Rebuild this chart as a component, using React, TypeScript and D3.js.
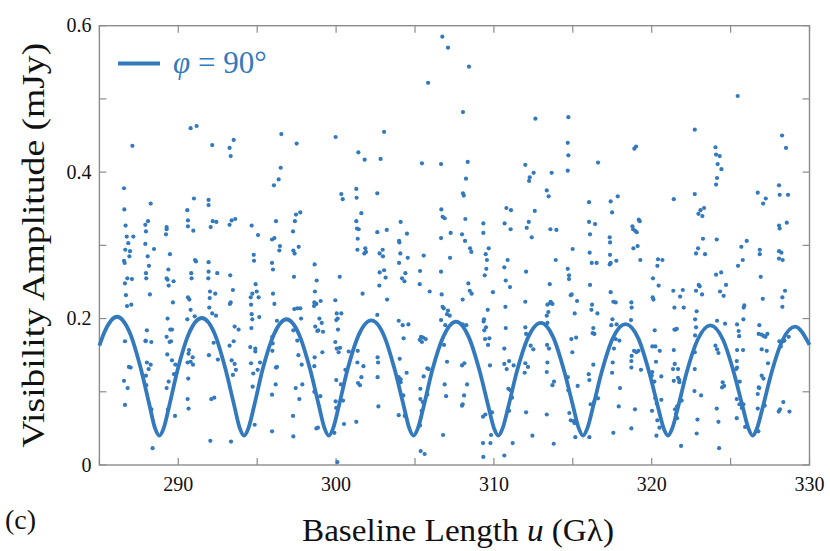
import React, { useMemo } from "react";
import * as d3 from "d3";

// observed visibilities, [u in G-lambda, amplitude in mJy]
const samples: [number, number][] = [
  [287.09,0.436],[290.78,0.460],[291.16,0.463],[292.15,0.437],[293.25,0.433],[293.51,0.444],[293.32,0.422],[286.56,0.378],
  [290.99,0.364],[291.92,0.362],[291.92,0.355],[288.25,0.357],[286.58,0.349],[290.57,0.348],[286.66,0.327],[287.91,0.328],
  [288.08,0.333],[287.95,0.319],[289.26,0.325],[289.26,0.322],[289.22,0.315],[290.61,0.334],[290.61,0.326],[290.95,0.320],
  [292.18,0.333],[292.41,0.332],[292.05,0.325],[293.25,0.328],[293.38,0.334],[293.61,0.336],[286.73,0.312],[287.15,0.312],
  [286.83,0.303],[287.91,0.302],[288.46,0.295],[286.64,0.294],[286.94,0.292],[286.90,0.285],[288.06,0.285],[289.47,0.288],
  [286.56,0.279],[286.60,0.276],[288.14,0.272],[291.06,0.280],[291.12,0.278],[289.37,0.267],[291.92,0.277],[291.92,0.264],
  [292.47,0.262],[290.82,0.262],[290.84,0.255],[286.77,0.255],[287.06,0.254],[287.95,0.262],[287.97,0.255],[289.32,0.253],
  [289.26,0.255],[289.70,0.251],[289.39,0.245],[286.62,0.248],[286.68,0.232],[288.20,0.233],[289.66,0.222],[291.90,0.255],
  [292.01,0.237],[292.34,0.234],[291.99,0.228],[291.96,0.215],[292.15,0.207],[292.39,0.204],[293.29,0.259],[293.46,0.239],
  [293.32,0.222],[293.27,0.220],[290.61,0.229],[290.70,0.226],[290.78,0.212],[291.04,0.203],[290.57,0.199],[286.75,0.217],
  [287.02,0.219],[293.57,0.189],[293.82,0.185],[289.32,0.200],[288.01,0.184],[287.93,0.170],[287.93,0.169],[288.29,0.168],
  [286.62,0.169],[289.26,0.175],[289.49,0.185],[289.60,0.185],[289.45,0.168],[289.54,0.169],[292.24,0.167],[293.51,0.169],
  [293.25,0.163],[290.68,0.157],[290.65,0.152],[290.91,0.147],[290.59,0.140],[290.78,0.141],[290.93,0.137],[291.94,0.150],
  [292.51,0.144],[289.30,0.151],[289.60,0.143],[289.81,0.137],[293.38,0.143],[293.57,0.138],[293.65,0.130],[293.46,0.123],
  [288.01,0.140],[288.25,0.137],[288.12,0.131],[286.87,0.134],[286.98,0.133],[287.95,0.122],[287.97,0.109],[289.39,0.114],
  [289.26,0.105],[286.56,0.115],[286.79,0.105],[289.73,0.124],[290.63,0.118],[290.59,0.090],[290.65,0.077],[292.09,0.090],
  [292.28,0.092],[286.62,0.082],[288.29,0.076],[289.35,0.076],[289.79,0.067],[288.37,0.023],[292.03,0.033],[293.34,0.032],
  [296.53,0.452],[297.50,0.439],[299.97,0.448],[301.41,0.427],[301.81,0.417],[302.82,0.418],[303.04,0.455],[296.49,0.406],
  [296.36,0.390],[296.06,0.382],[300.33,0.370],[300.42,0.363],[301.28,0.377],[301.30,0.365],[302.61,0.371],[294.65,0.327],
  [295.05,0.314],[296.19,0.333],[297.39,0.333],[297.73,0.345],[297.46,0.342],[297.27,0.319],[295.94,0.308],[296.09,0.310],
  [296.44,0.299],[296.40,0.293],[297.29,0.293],[297.37,0.289],[297.63,0.298],[301.28,0.333],[301.60,0.344],[301.32,0.323],
  [301.43,0.322],[301.37,0.309],[301.35,0.294],[301.85,0.296],[301.79,0.289],[301.89,0.291],[302.61,0.318],[302.76,0.289],
  [302.95,0.294],[294.78,0.287],[294.80,0.279],[295.94,0.276],[296.00,0.267],[298.64,0.274],[297.33,0.257],[300.23,0.257],
  [302.76,0.263],[303.04,0.266],[294.90,0.247],[294.69,0.234],[294.97,0.237],[295.09,0.229],[294.59,0.229],[294.61,0.219],
  [296.00,0.234],[296.09,0.220],[298.77,0.252],[298.66,0.237],[298.62,0.222],[298.75,0.220],[298.60,0.217],[299.02,0.224],
  [299.95,0.225],[301.68,0.234],[302.74,0.245],[294.65,0.206],[294.69,0.199],[295.13,0.202],[294.63,0.187],[297.35,0.213],
  [297.54,0.214],[297.73,0.214],[297.78,0.200],[296.25,0.197],[300.04,0.207],[300.33,0.207],[300.10,0.200],[300.01,0.198],
  [298.94,0.200],[299.09,0.194],[298.68,0.189],[298.87,0.184],[299.17,0.182],[298.81,0.183],[302.61,0.205],[295.96,0.175],
  [295.98,0.166],[297.29,0.184],[297.54,0.170],[297.61,0.150],[300.12,0.185],[299.95,0.168],[300.04,0.159],[300.25,0.160],
  [300.16,0.154],[299.13,0.154],[298.64,0.147],[294.56,0.161],[294.88,0.159],[294.88,0.155],[294.61,0.139],[295.18,0.140],
  [295.03,0.130],[294.75,0.125],[296.19,0.133],[296.25,0.134],[295.96,0.156],[297.82,0.137],[298.62,0.135],[300.59,0.130],
  [300.80,0.155],[301.37,0.156],[301.35,0.140],[301.73,0.135],[301.60,0.120],[302.63,0.147],[302.66,0.140],[302.63,0.120],
  [301.39,0.112],[301.51,0.109],[294.71,0.107],[296.17,0.110],[295.94,0.096],[297.44,0.105],[297.67,0.090],[297.86,0.110],
  [298.62,0.100],[299.00,0.094],[300.01,0.116],[300.31,0.110],[299.97,0.087],[300.44,0.088],[300.01,0.078],[302.68,0.080],
  [294.84,0.055],[295.94,0.046],[297.27,0.067],[297.29,0.039],[298.75,0.050],[298.85,0.051],[300.50,0.056],[301.28,0.059],
  [299.89,0.044],[300.08,0.004],
  [306.73,0.585],[307.09,0.570],[308.42,0.544],[305.83,0.522],[308.04,0.482],[305.44,0.412],[306.65,0.411],[308.34,0.414],
  [308.23,0.391],[308.04,0.371],[308.09,0.368],[311.99,0.410],[306.67,0.349],[306.75,0.339],[306.88,0.337],[308.19,0.336],
  [310.79,0.351],[311.08,0.348],[304.09,0.332],[303.21,0.321],[304.49,0.316],[303.99,0.306],[304.01,0.304],[309.33,0.330],
  [309.33,0.317],[310.68,0.330],[311.06,0.322],[312.08,0.324],[306.65,0.310],[307.26,0.317],[307.98,0.315],[308.17,0.306],
  [308.49,0.296],[308.57,0.291],[304.07,0.289],[304.54,0.283],[305.55,0.286],[307.22,0.283],[309.48,0.288],[309.67,0.296],
  [309.56,0.280],[310.87,0.280],[303.99,0.276],[302.97,0.285],[303.14,0.256],[304.39,0.262],[304.18,0.255],[304.33,0.251],
  [305.32,0.265],[306.65,0.264],[309.52,0.268],[309.42,0.259],[310.66,0.270],[310.75,0.252],[311.02,0.243],[312.04,0.264],
  [305.30,0.247],[305.93,0.237],[306.69,0.233],[308.38,0.248],[308.47,0.238],[308.59,0.234],[308.02,0.226],[309.94,0.236],
  [303.23,0.226],[311.99,0.223],[310.73,0.216],[306.75,0.216],[306.82,0.214],[307.09,0.211],[307.20,0.204],[307.03,0.206],
  [306.65,0.198],[306.92,0.191],[308.02,0.192],[308.25,0.191],[309.61,0.212],[309.37,0.199],[309.35,0.196],[309.50,0.188],
  [309.39,0.184],[309.71,0.173],[309.44,0.172],[309.63,0.164],[310.75,0.187],[311.99,0.188],[312.04,0.179],[303.97,0.197],
  [304.22,0.191],[304.58,0.192],[304.28,0.173],[305.30,0.171],[305.38,0.175],[305.51,0.174],[305.68,0.172],[305.44,0.168],
  [306.84,0.164],[304.03,0.145],[304.47,0.126],[305.55,0.121],[305.78,0.132],[305.87,0.131],[307.03,0.141],[307.98,0.136],
  [308.13,0.139],[309.75,0.136],[310.66,0.138],[310.96,0.142],[310.81,0.131],[311.25,0.136],[310.66,0.159],[311.99,0.139],
  [311.95,0.126],[303.97,0.120],[304.09,0.117],[304.01,0.114],[304.09,0.113],[304.26,0.095],[305.34,0.104],[305.34,0.090],
  [305.49,0.086],[305.78,0.096],[306.88,0.110],[306.97,0.094],[308.30,0.110],[308.11,0.095],[308.02,0.083],[307.98,0.081],
  [310.92,0.104],[311.06,0.102],[311.15,0.092],[310.96,0.074],[312.04,0.072],[303.97,0.068],[304.35,0.067],[305.42,0.074],
  [305.32,0.054],[306.78,0.041],[309.31,0.066],[309.46,0.069],[309.88,0.072],[309.82,0.041],[309.78,0.030],[309.31,0.030],
  [311.19,0.030],[309.33,0.011],[310.66,0.013],[305.36,0.019],[305.61,0.015],
  [312.63,0.473],[314.72,0.475],[314.68,0.440],[314.72,0.423],[314.68,0.402],[319.01,0.435],[318.90,0.432],[316.60,0.413],
  [312.27,0.393],[312.23,0.388],[312.52,0.399],[313.66,0.399],[313.35,0.375],[313.47,0.367],[312.59,0.347],[316.03,0.359],
  [317.40,0.360],[317.85,0.367],[317.49,0.345],[312.21,0.332],[312.40,0.311],[313.58,0.322],[313.96,0.321],[316.03,0.332],
  [316.41,0.329],[316.09,0.315],[318.78,0.326],[318.82,0.322],[318.94,0.320],[319.05,0.318],[319.18,0.335],[319.24,0.333],
  [317.34,0.311],[317.36,0.304],[318.84,0.296],[319.11,0.299],[314.99,0.295],[313.92,0.280],[316.07,0.290],[316.20,0.276],
  [316.51,0.276],[317.36,0.287],[317.34,0.274],[317.40,0.276],[317.76,0.279],[319.28,0.280],[320.40,0.281],[320.68,0.280],
  [320.36,0.272],[314.68,0.268],[314.76,0.259],[314.76,0.254],[313.54,0.247],[316.09,0.246],[320.08,0.255],[320.44,0.245],
  [314.87,0.232],[314.93,0.233],[315.27,0.224],[315.12,0.207],[313.39,0.219],[313.60,0.223],[313.56,0.221],[313.71,0.220],
  [313.45,0.209],[313.35,0.204],[313.39,0.194],[317.40,0.236],[317.57,0.223],[317.72,0.222],[316.22,0.219],[316.18,0.212],
  [316.56,0.207],[317.51,0.199],[317.44,0.191],[317.78,0.192],[318.71,0.222],[318.73,0.215],[318.69,0.198],[320.11,0.226],
  [320.06,0.229],[320.19,0.184],[312.33,0.163],[312.50,0.158],[313.37,0.164],[313.49,0.159],[314.91,0.172],[315.21,0.174],
  [314.97,0.154],[316.30,0.187],[316.26,0.180],[316.37,0.179],[317.72,0.172],[317.95,0.170],[317.61,0.159],[318.73,0.149],
  [318.88,0.156],[319.03,0.154],[319.16,0.156],[318.71,0.142],[318.71,0.133],[319.32,0.130],[320.04,0.162],[320.23,0.162],
  [320.51,0.156],[320.27,0.141],[320.04,0.127],[320.00,0.122],[320.17,0.114],[320.61,0.121],[312.16,0.134],[313.39,0.140],
  [313.35,0.127],[313.81,0.114],[313.71,0.109],[314.68,0.120],[314.72,0.102],[315.31,0.108],[316.01,0.124],[316.05,0.116],
  [316.30,0.137],[317.99,0.105],[317.53,0.140],[317.49,0.126],[320.61,0.089],[320.23,0.091],[320.32,0.084],[316.60,0.091],
  [316.35,0.086],[316.13,0.083],[317.91,0.080],[318.94,0.076],[320.02,0.074],[313.35,0.069],[314.78,0.071],[314.87,0.061],
  [315.04,0.060],[315.12,0.057],[312.44,0.040],[313.79,0.029],[315.16,0.038],[316.05,0.038],[317.57,0.044],[318.71,0.050],
  [320.36,0.061],[320.49,0.051],[320.30,0.040],
  [325.45,0.504],[322.73,0.458],[328.26,0.450],[328.51,0.433],[324.04,0.434],[324.08,0.424],[324.31,0.422],[324.18,0.411],
  [324.42,0.404],[324.14,0.392],[324.08,0.383],[321.40,0.363],[322.73,0.370],[326.72,0.372],[327.23,0.364],[327.06,0.357],
  [328.07,0.382],[328.11,0.369],[328.64,0.369],[323.32,0.351],[323.09,0.348],[322.96,0.343],[323.21,0.340],[328.56,0.331],
  [328.07,0.327],[328.11,0.323],[323.25,0.309],[324.12,0.308],[326.02,0.306],[322.94,0.296],[322.81,0.289],[323.38,0.288],
  [325.68,0.298],[325.77,0.280],[325.47,0.272],[326.85,0.294],[326.85,0.288],[328.07,0.292],[328.22,0.290],[328.07,0.282],
  [328.30,0.280],[324.08,0.260],[324.40,0.263],[326.91,0.257],[321.37,0.238],[321.97,0.239],[321.80,0.230],[322.98,0.246],
  [323.04,0.244],[322.81,0.238],[323.19,0.233],[324.33,0.237],[324.71,0.246],[324.56,0.231],[321.44,0.215],[322.03,0.215],
  [322.85,0.210],[325.87,0.218],[325.83,0.215],[327.04,0.227],[328.28,0.229],[328.45,0.238],[328.28,0.216],[322.75,0.199],
  [322.81,0.188],[322.75,0.177],[321.44,0.185],[321.52,0.185],[321.59,0.186],[324.14,0.197],[324.65,0.193],[325.81,0.199],
  [325.41,0.192],[325.51,0.183],[325.54,0.176],[326.82,0.191],[326.78,0.179],[327.12,0.176],[327.33,0.179],[326.97,0.178],
  [327.21,0.175],[321.40,0.157],[322.73,0.154],[324.04,0.163],[324.14,0.158],[324.23,0.153],[325.41,0.157],[325.79,0.157],
  [326.97,0.158],[327.29,0.156],[328.09,0.169],[328.18,0.162],[328.32,0.169],[328.41,0.170],[328.68,0.175],[321.46,0.138],
  [321.35,0.131],[321.67,0.131],[321.67,0.119],[321.75,0.116],[321.40,0.115],[321.75,0.113],[322.73,0.131],[325.39,0.142],
  [325.41,0.133],[325.35,0.131],[327.37,0.139],[322.71,0.101],[323.13,0.095],[324.50,0.113],[324.59,0.108],[324.46,0.106],
  [325.58,0.114],[326.97,0.122],[327.08,0.118],[326.78,0.106],[326.82,0.105],[326.72,0.097],[321.90,0.088],[321.61,0.080],
  [321.48,0.076],[321.61,0.064],[321.54,0.070],[322.90,0.062],[322.85,0.043],[324.12,0.077],[324.23,0.059],[325.39,0.090],
  [325.56,0.083],[325.81,0.083],[325.71,0.078],[325.39,0.064],[325.92,0.052],[327.16,0.081],[326.72,0.077],[328.34,0.086],
  [328.13,0.076],[328.05,0.073],[328.73,0.073],[326.76,0.046],[321.86,0.026],[324.27,0.023],
];

// model curve for phi = 90 deg
const modelU = [
  285.00, 285.31, 286.12, 286.92, 287.62, 288.16, 288.53, 288.80, 289.07, 289.45, 289.98, 290.68,
  291.49, 292.29, 292.99, 293.53, 293.90, 294.17, 294.44, 294.82, 295.35, 296.05,
  296.86, 297.66, 298.36, 298.90, 299.27, 299.54, 299.81, 300.19, 300.72, 301.42,
  302.23, 303.03, 303.73, 304.27, 304.64, 304.91, 305.18, 305.56, 306.09, 306.79,
  307.60, 308.40, 309.10, 309.64, 310.01, 310.28, 310.55, 310.93, 311.46, 312.16,
  312.97, 313.77, 314.47, 315.01, 315.38, 315.65, 315.92, 316.30, 316.83, 317.53,
  318.34, 319.15, 319.85, 320.39, 320.76, 321.03, 321.30, 321.68, 322.21, 322.91,
  323.72, 324.52, 325.22, 325.76, 326.13, 326.40, 326.67, 327.05, 327.58, 328.28,
  329.09, 330.00,
];
const modelAmp = [
  0.163, 0.181, 0.2025, 0.181, 0.132, 0.083, 0.050, 0.040, 0.050, 0.083, 0.132, 0.180,
  0.2008, 0.180, 0.131, 0.0825, 0.050, 0.040, 0.050, 0.082, 0.131, 0.178,
  0.1991, 0.178, 0.130, 0.082, 0.050, 0.040, 0.050, 0.082, 0.130, 0.177,
  0.1974, 0.177, 0.129, 0.082, 0.050, 0.040, 0.050, 0.081, 0.129, 0.175,
  0.1958, 0.175, 0.128, 0.081, 0.050, 0.040, 0.050, 0.081, 0.128, 0.174,
  0.1941, 0.174, 0.127, 0.081, 0.050, 0.040, 0.050, 0.081, 0.127, 0.173,
  0.1924, 0.173, 0.126, 0.080, 0.050, 0.040, 0.050, 0.080, 0.126, 0.171,
  0.1907, 0.171, 0.125, 0.080, 0.050, 0.040, 0.050, 0.080, 0.125, 0.170,
  0.1890, 0.164,
];

const xTickLabels = [290, 300, 310, 320, 330];
const yTickLabels = [0, 0.2, 0.4, 0.6];

const W = 830;
const H = 551;
const blue = "#3279bd";
const axisGray = "#8c8c8c";
const serif = "Liberation Serif";

export default function App() {
  const left = 99.4, right = 809.5, top = 25.7, bottom = 465;
  const x = useMemo(() => d3.scaleLinear().domain([285, 330]).range([left, right]), []);
  const y = useMemo(() => d3.scaleLinear().domain([0, 0.6]).range([bottom, top]), []);

  const line = d3
    .line<number>()
    .x((_, i) => x(modelU[i]))
    .y((d) => y(d))
    .curve(d3.curveMonotoneX);

  const xTicks = d3.range(285, 331, 5);
  const yTicks = d3.range(0, 0.61, 0.1);
  const tk = 7;
  const txt = { fontFamily: serif };

  return (
    <svg
      width={W}
      height={H}
      style={{ position: "absolute", left: 0, top: 0, background: "#fff" }}
    >
      {/* frame */}
      <rect x={left} y={top} width={right - left} height={bottom - top} fill="none" stroke={axisGray} strokeWidth={1.4} />

      {xTicks.map((t) => (
        <g key={"xt" + t}>
          <line x1={x(t)} x2={x(t)} y1={bottom} y2={bottom - tk} stroke={axisGray} strokeWidth={1.2} />
          <line x1={x(t)} x2={x(t)} y1={top} y2={top + tk} stroke={axisGray} strokeWidth={1.2} />
        </g>
      ))}
      {yTicks.map((t) => (
        <g key={"yt" + t}>
          <line x1={left} x2={left + tk} y1={y(t)} y2={y(t)} stroke={axisGray} strokeWidth={1.2} />
          <line x1={right} x2={right - tk} y1={y(t)} y2={y(t)} stroke={axisGray} strokeWidth={1.2} />
        </g>
      ))}

      {xTickLabels.map((t) => (
        <text key={"xl" + t} x={x(t)} y={bottom + 26} textAnchor="middle" fontSize={20} fill="#111" style={txt}>
          {t}
        </text>
      ))}
      {yTickLabels.map((t) => (
        <text key={"yl" + t} x={left - 8} y={y(t) + 6.5} textAnchor="end" fontSize={20} fill="#111" style={txt}>
          {t === 0 ? "0" : t.toFixed(1)}
        </text>
      ))}

      {/* data */}
      {samples.map((d, i) => (
        <circle key={i} cx={x(d[0])} cy={y(d[1])} r={2.1} fill={blue} />
      ))}
      <path d={line(modelAmp) ?? ""} fill="none" stroke={blue} strokeWidth={3.8} strokeLinejoin="round" />

      {/* legend */}
      <line x1={118} x2={160} y1={63.5} y2={63.5} stroke={blue} strokeWidth={4.2} />
      <text x={173} y={73} fontSize={31} fill={blue} style={txt}>
        <tspan fontStyle="italic">φ</tspan> = 90°
      </text>

      {/* titles */}
      <text
        transform={`translate(44, ${(top + bottom) / 2}) rotate(-90)`}
        textAnchor="middle"
        fontSize={32}
        fill="#111"
        style={txt}
        textLength={405}
        lengthAdjust="spacingAndGlyphs"
      >
        Visibility Amplitude (mJy)
      </text>
      <text
        x={458}
        y={541}
        textAnchor="middle"
        fontSize={32}
        fill="#111"
        style={txt}
        textLength={312}
        lengthAdjust="spacingAndGlyphs"
      >
        Baseline Length <tspan fontStyle="italic">u</tspan> (Gλ)
      </text>
      <text x={5} y={529} fontSize={28} fill="#111" style={txt}>
        (c)
      </text>
    </svg>
  );
}
